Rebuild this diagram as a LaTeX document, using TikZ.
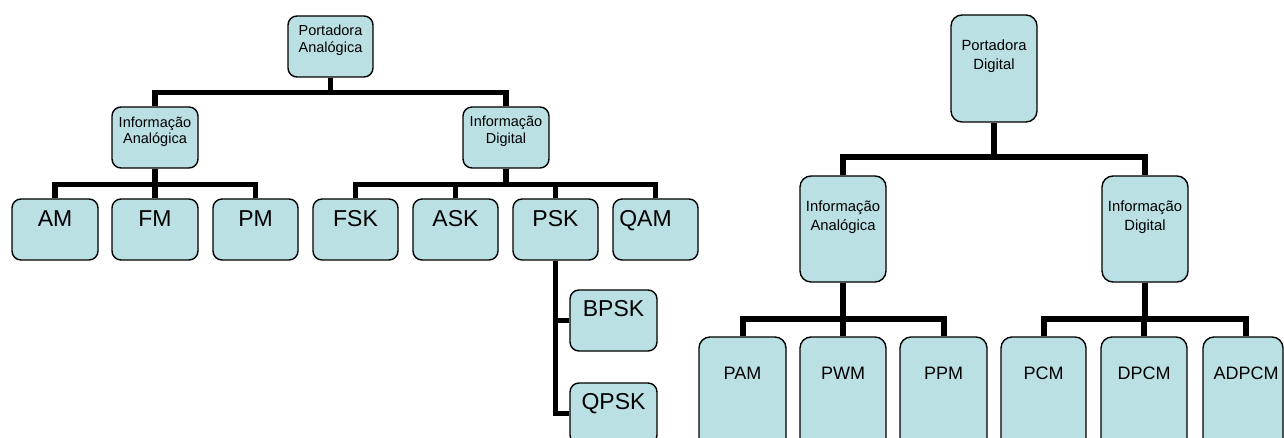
\documentclass[tikz,border=0pt]{standalone}
\usepackage{fontspec}
\setmainfont{Liberation Sans}
\usetikzlibrary{calc}
\definecolor{boxfill}{HTML}{BBE0E3}
\pgfdeclarelayer{back}
\pgfdeclarelayer{bg}
\pgfsetlayers{back,bg,main}
\tikzset{
  boxL/.style={draw=black, line width=1.4pt, fill=boxfill, rounded corners=9pt, inner sep=0pt},
  boxR/.style={draw=black, line width=1.4pt, fill=boxfill, rounded corners=11pt, inner sep=0pt},
  connL/.style={line width=5.5pt, line join=miter, draw=black},
  connR/.style={line width=6pt, line join=miter, draw=black},
  smallL/.style={anchor=north, inner sep=0pt, align=center, font=\fontsize{14.5}{16.5}\selectfont},
  smallR/.style={anchor=north, inner sep=0pt, align=center, font=\fontsize{14.8}{19}\selectfont},
  bigL/.style={anchor=north, inner sep=0pt, font=\fontsize{23}{26}\selectfont},
  bigR/.style={anchor=north, inner sep=0pt, font=\fontsize{18}{21}\selectfont},
}
\newcommand\mybox[6]{\node[#6, minimum width={#4-#2}, minimum height={#5-#3}] (#1) at ({(#2+#4)/2},{(#3+#5)/2}) {};}
\begin{document}
\begin{tikzpicture}[x=1pt,y=-1pt]
\useasboundingbox (0,0) rectangle (1284,438);
\clip (0,0) rectangle (1284,438);
\begin{pgfonlayer}{back}
\fill[white] (0,0) rectangle (1284,438);
\end{pgfonlayer}
% ---------- left tree ----------
\mybox{pa}{288}{16}{373}{77}{boxL}
\mybox{ia}{112}{107}{198}{168}{boxL}
\mybox{id}{463}{107}{549}{168}{boxL}
\mybox{am}{12}{199}{98}{260}{boxL}
\mybox{fm}{112}{199}{198}{260}{boxL}
\mybox{pm}{213}{199}{298}{260}{boxL}
\mybox{fsk}{313}{199}{398}{260}{boxL}
\mybox{ask}{413}{199}{498}{260}{boxL}
\mybox{psk}{513}{199}{598}{260}{boxL}
\mybox{qam}{613}{199}{698}{260}{boxL}
\mybox{bpsk}{570}{290}{657}{351}{boxL}
\mybox{qpsk}{570}{383}{657}{444}{boxL}
\node[smallL] (pa-t) at (330.5,25) {Portadora\\Analógica};
\node[smallL] (ia-t) at (155,116.5) {Informação\\Analógica};
\node[smallL] (id-t) at (506,116) {Informação\\Digital};
\node[bigL] (am-t) at (55,210) {AM};
\node[bigL] (fm-t) at (155,210) {FM};
\node[bigL] (pm-t) at (255.5,210) {PM};
\node[bigL] (fsk-t) at (355.5,210) {FSK};
\node[bigL] (ask-t) at (455.5,210) {ASK};
\node[bigL] (psk-t) at (555.5,210) {PSK};
\node[bigL] (qam-t) at (645.5,210) {QAM};
\node[bigL] (bpsk-t) at (613.5,300) {BPSK};
\node[bigL] (qpsk-t) at (613.5,393) {QPSK};
% ---------- right tree ----------
\mybox{pd}{951}{15}{1037}{122}{boxR}
\mybox{iar}{800}{176}{886}{282}{boxR}
\mybox{idr}{1102}{176}{1188}{282}{boxR}
\mybox{pam}{699}{337}{786}{470}{boxR}
\mybox{pwm}{800}{337}{886}{470}{boxR}
\mybox{ppm}{900}{337}{987}{470}{boxR}
\mybox{pcm}{1001}{337}{1086}{470}{boxR}
\mybox{dpcm}{1101}{337}{1187}{470}{boxR}
\mybox{adpcm}{1203}{337}{1283}{470}{boxR}
\node[smallR] (pd-t) at (994,40) {Portadora\\Digital};
\node[smallR] (iar-t) at (843,201) {Informação\\Analógica};
\node[smallR] (idr-t) at (1145,201) {Informação\\Digital};
\node[bigR] (pam-t) at (742.5,367) {PAM};
\node[bigR] (pwm-t) at (843,367) {PWM};
\node[bigR] (ppm-t) at (943.5,367) {PPM};
\node[bigR] (pcm-t) at (1043.5,367) {PCM};
\node[bigR] (dpcm-t) at (1144,367) {DPCM};
\node[bigR] (adpcm-t) at (1246,367) {ADPCM};
% ---------- connectors ----------
\begin{pgfonlayer}{bg}
\draw[connL] (pa.south) -- ++(0,15) -| (ia.north);
\draw[connL] (pa.south) -- ++(0,15) -| (id.north);
\draw[connL] (ia.south) -- ++(0,16) -| (am.north);
\draw[connL] (ia.south) -- ++(0,16) -| (pm.north);
\draw[connL] (ia.south) -- (fm.north);
\draw[connL] (id.south) -- ++(0,16) -| (fsk.north);
\draw[connL] (id.south) -- ++(0,16) -| (qam.north);
\draw[connL] (id.south) -- ++(0,16) -| (ask.north);
\draw[connL] (id.south) -- ++(0,16) -| (psk.north);
\draw[connL] (psk.south) |- (bpsk.west);
\draw[connL] (psk.south) |- (qpsk.west);
\draw[connR] (pd.south) -- ++(0,34) -| (iar.north);
\draw[connR] (pd.south) -- ++(0,34) -| (idr.north);
\draw[connR] (iar.south) -- ++(0,36) -| (pam.north);
\draw[connR] (iar.south) -- ++(0,36) -| (ppm.north);
\draw[connR] (iar.south) -- (pwm.north);
\draw[connR] (idr.south) -- ++(0,36) -| (pcm.north);
\draw[connR] (idr.south) -- ++(0,36) -| ([xshift=3pt]adpcm.north);
\draw[connR] (idr.south) -- ++(0,36) -| (dpcm.north);
\end{pgfonlayer}
\end{tikzpicture}
\end{document}
